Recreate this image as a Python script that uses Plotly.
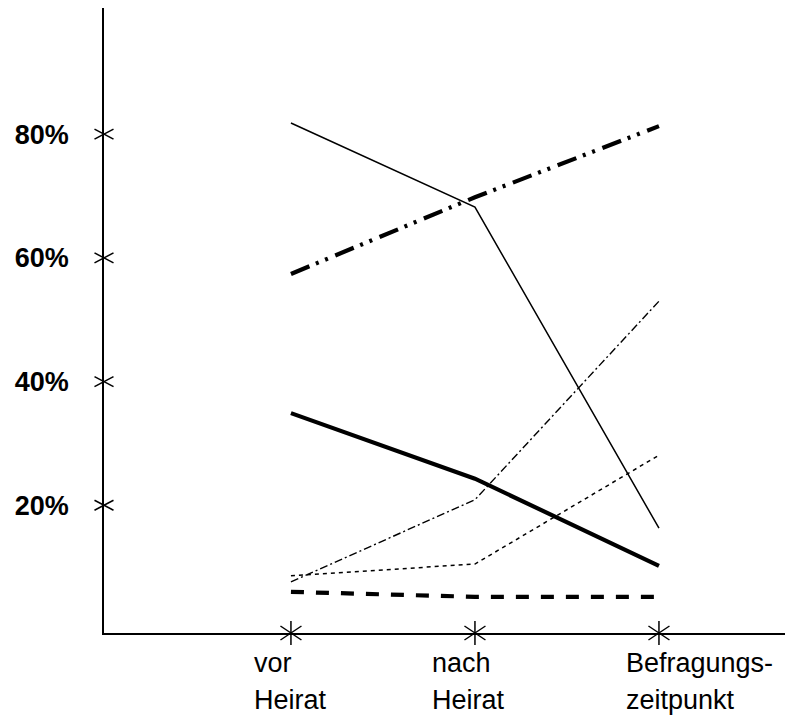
import plotly.graph_objects as go

# ---- data ----
categories = ["vor Heirat", "nach Heirat", "Befragungszeitpunkt"]
cat_label_lines = [["vor", "Heirat"], ["nach", "Heirat"], ["Befragungs-", "zeitpunkt"]]
y_tick_vals = [20, 40, 60, 80]
y_tick_text = ["20%", "40%", "60%", "80%"]

series_thin_solid = [81.8, 68.2, 16.3]
series_thick_dashdotdot = [57.4, 69.8, 81.3]
series_thick_solid = [34.9, 24.3, 10.2]
series_thin_dashdot = [7.6, 20.9, 53.0]
series_thin_dotted = [8.6, 10.5, 28.1]
series_thick_dashed = [6.0, 5.2, 5.2]

# ---- styles ----
series = [
    (series_thin_solid, 1.5, "solid"),
    (series_thick_dashdotdot, 4.2, "20px,7px,3px,7px,3px,8px"),
    (series_thick_solid, 4.2, "solid"),
    (series_thin_dashdot, 1.4, "8px,3px,2px,3px"),
    (series_thin_dotted, 1.5, "4px,4px"),
    (series_thick_dashed, 4.2, "13px,12px"),
]

x_idx = list(range(len(categories)))
x_min, x_max = -1.016, 2.685
y_min, y_max = -0.65, 100.4


def xp(v):
    return (v - x_min) / (x_max - x_min)


def yp(v):
    return (v - y_min) / (y_max - y_min)


fig = go.Figure()
for vals, w, dash in series:
    fig.add_trace(go.Scatter(
        x=x_idx, y=vals, mode="lines",
        line=dict(color="black", width=w, dash=dash),
        showlegend=False, hoverinfo="skip",
    ))

shapes = []
# stars on y axis
for v in y_tick_vals:
    for (a, b) in [((-9.5, -5), (9.5, 5)), ((-9.5, 5), (9.5, -5))]:
        shapes.append(dict(type="line", xref="paper", yref="paper",
                           xsizemode="pixel", ysizemode="pixel",
                           xanchor=xp(x_min), yanchor=yp(v),
                           x0=a[0], y0=a[1], x1=b[0], y1=b[1],
                           line=dict(color="black", width=1.5)))
# stars on x axis
for i in x_idx:
    for (a, b) in [((-10.5, -7), (10.5, 7)), ((-10.5, 7), (10.5, -7)), ((0, -12), (0, 12))]:
        shapes.append(dict(type="line", xref="paper", yref="paper",
                           xsizemode="pixel", ysizemode="pixel",
                           xanchor=xp(i), yanchor=yp(y_min),
                           x0=a[0], y0=a[1], x1=b[0], y1=b[1],
                           line=dict(color="black", width=1.5)))

label_shift = [-39, -45, -35]
line_shift = [-30, -67]
annotations = []
for i, (lines, s) in enumerate(zip(cat_label_lines, label_shift)):
    for t, ys in zip(lines, line_shift):
        annotations.append(dict(x=i, y=0, xref="x", yref="paper",
                                text=t, showarrow=False, xanchor="left",
                                yanchor="middle", align="left", xshift=s, yshift=ys,
                                font=dict(family="Liberation Sans, Arial, sans-serif",
                                          size=27, color="black")))

fig.update_layout(
    width=786, height=711,
    margin=dict(l=96, r=9, t=0, b=86),
    plot_bgcolor="white", paper_bgcolor="white",
    shapes=shapes, annotations=annotations,
    xaxis=dict(range=[x_min, x_max], showgrid=False, zeroline=False,
               showline=True, linecolor="black", linewidth=1.5,
               showticklabels=False, ticks="", automargin=False),
    yaxis=dict(range=[y_min, y_max], showgrid=False, zeroline=False,
               showline=True, linecolor="black", linewidth=1.5,
               tickvals=y_tick_vals, ticktext=y_tick_text, ticks="",
               ticklabelstandoff=28, automargin=False,
               tickfont=dict(family="Liberation Sans, Arial, sans-serif",
                             size=27, color="black", weight="bold")),
)

fig.write_html("out.html")
